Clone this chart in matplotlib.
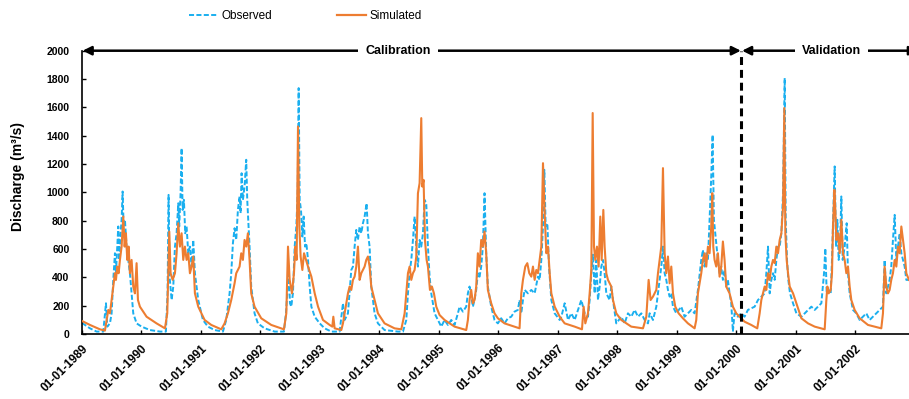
import numpy as np
import matplotlib
matplotlib.use("Agg")
import matplotlib.pyplot as plt
from matplotlib.lines import Line2D
import datetime as dt

plt.rcParams['font.family'] = ['Liberation Sans', 'DejaVu Sans']

# ---------------- data (time as decimal year, discharge in m3/s) ----------------
obs_time = [
    1989.000, 1989.134, 1989.246, 1989.358, 1989.403, 1989.425, 1989.470, 1989.498, 1989.526, 1989.554,
    1989.571, 1989.593, 1989.610, 1989.627, 1989.649, 1989.666, 1989.683, 1989.700, 1989.722, 1989.750,
    1989.778, 1989.806, 1989.834, 1989.862, 1989.918,
    1990.002, 1990.142, 1990.311, 1990.411, 1990.439, 1990.456, 1990.473, 1990.507, 1990.535, 1990.563,
    1990.591, 1990.619, 1990.635, 1990.658, 1990.675, 1990.692, 1990.714, 1990.736, 1990.759, 1990.787,
    1990.815, 1990.843, 1990.871, 1990.899, 1990.955,
    1991.034, 1991.118, 1991.230, 1991.370, 1991.426, 1991.482, 1991.510, 1991.538, 1991.566, 1991.594,
    1991.622, 1991.650, 1991.667, 1991.684, 1991.706, 1991.734, 1991.762, 1991.779, 1991.796, 1991.818,
    1991.846, 1991.902, 1991.958,
    1992.070, 1992.239, 1992.395, 1992.429, 1992.451, 1992.474, 1992.496, 1992.518, 1992.546, 1992.575,
    1992.603, 1992.625, 1992.642, 1992.659, 1992.681, 1992.704, 1992.726, 1992.749, 1992.771, 1992.799,
    1992.827, 1992.855, 1992.911, 1992.995,
    1993.078, 1993.190, 1993.330, 1993.386, 1993.414, 1993.470, 1993.526, 1993.554, 1993.582, 1993.610,
    1993.638, 1993.666, 1993.694, 1993.722, 1993.750, 1993.784, 1993.806, 1993.834, 1993.862, 1993.918,
    1993.974,
    1994.086, 1994.310, 1994.395, 1994.451, 1994.479, 1994.507, 1994.535, 1994.563, 1994.591, 1994.619,
    1994.647, 1994.675, 1994.703, 1994.731, 1994.759, 1994.787, 1994.815, 1994.843, 1994.871, 1994.927,
    1994.983,
    1995.039, 1995.095, 1995.151, 1995.207, 1995.263, 1995.319, 1995.347, 1995.403, 1995.459, 1995.487,
    1995.515, 1995.543, 1995.571, 1995.599, 1995.627, 1995.655, 1995.683, 1995.711, 1995.739, 1995.767,
    1995.795, 1995.823, 1995.879, 1995.935, 1995.991,
    1996.047, 1996.103, 1996.159, 1996.215, 1996.271, 1996.327, 1996.355, 1996.384, 1996.412, 1996.440,
    1996.496, 1996.552, 1996.608, 1996.664, 1996.692, 1996.720, 1996.748, 1996.770, 1996.793, 1996.821,
    1996.849, 1996.888, 1996.944,
    1997.028, 1997.056, 1997.112, 1997.168, 1997.224, 1997.280, 1997.336, 1997.392, 1997.420, 1997.448,
    1997.504, 1997.532, 1997.560, 1997.588, 1997.616, 1997.644, 1997.672, 1997.700, 1997.728, 1997.756,
    1997.784, 1997.812, 1997.868, 1997.896, 1997.924, 1997.980,
    1998.064, 1998.120, 1998.176, 1998.232, 1998.289, 1998.345, 1998.401, 1998.457, 1998.513, 1998.541,
    1998.597, 1998.653, 1998.681, 1998.709, 1998.737, 1998.765, 1998.793, 1998.821, 1998.849, 1998.877,
    1998.905, 1998.933, 1998.989,
    1999.073, 1999.129, 1999.185, 1999.241, 1999.297, 1999.353, 1999.409, 1999.437, 1999.465, 1999.493,
    1999.521, 1999.549, 1999.577, 1999.600, 1999.622, 1999.644, 1999.667, 1999.689, 1999.717, 1999.745,
    1999.773, 1999.801, 1999.829, 1999.857, 1999.885, 1999.913, 1999.941, 1999.969,
    2000.025, 2000.081, 2000.137, 2000.193, 2000.249, 2000.306, 2000.362, 2000.418, 2000.474, 2000.502,
    2000.530, 2000.558, 2000.586, 2000.614, 2000.642, 2000.670, 2000.698, 2000.726, 2000.754, 2000.782,
    2000.810, 2000.827, 2000.849, 2000.871, 2000.899, 2000.950,
    2001.006, 2001.090, 2001.146, 2001.202, 2001.258, 2001.314, 2001.370, 2001.426, 2001.471, 2001.493,
    2001.516, 2001.549, 2001.583, 2001.605, 2001.628, 2001.650, 2001.673, 2001.695, 2001.717, 2001.740,
    2001.762, 2001.785, 2001.818, 2001.852, 2001.874, 2001.902, 2001.958,
    2002.014, 2002.070, 2002.126, 2002.182, 2002.238, 2002.294, 2002.350, 2002.406, 2002.462, 2002.490,
    2002.518, 2002.546, 2002.574, 2002.602, 2002.630, 2002.659, 2002.687, 2002.715, 2002.743, 2002.771,
    2002.799, 2002.827, 2002.855, 2002.899,
]
obs_flow = [
    78, 40, 17, 17, 217, 52, 75, 146, 382, 570,
    429, 617, 759, 523, 711, 806, 1006, 759, 806, 617,
    523, 429, 287, 146, 75,
    52, 28, 17, 17, 287, 982, 405, 240, 335, 617,
    711, 923, 759, 994, 1312, 876, 947, 711, 759, 570,
    617, 476, 664, 429, 240,
    99, 52, 28, 17, 99, 287, 429, 641, 747, 664,
    876, 971, 853, 1135, 947, 1041, 1230, 947, 806, 617,
    335, 146, 75,
    40, 17, 17, 146, 287, 476, 217, 193, 287, 617,
    759, 994, 1736, 947, 876, 688, 829, 617, 641, 523,
    335, 193, 122, 75,
    40, 17, 17, 217, 99, 146, 452, 476, 617, 735,
    664, 759, 711, 782, 829, 923, 711, 617, 335, 146,
    75,
    28, 17, 17, 99, 287, 429, 523, 664, 829, 617,
    476, 664, 617, 711, 947, 923, 617, 405, 287, 146,
    99,
    52, 99, 64, 99, 64, 146, 193, 158, 193, 287,
    335, 264, 193, 240, 311, 429, 405, 476, 617, 994,
    570, 335, 193, 99, 75,
    111, 75, 111, 122, 158, 170, 240, 146, 240, 311,
    287, 311, 287, 405, 382, 523, 759, 1159, 759, 782,
    476, 240, 146,
    99, 122, 217, 99, 146, 99, 170, 240, 193, 146,
    122, 240, 429, 560, 287, 520, 240, 335, 476, 523,
    429, 287, 240, 335, 240, 75,
    122, 75, 146, 122, 170, 122, 146, 99, 75, 146,
    99, 193, 287, 382, 476, 617, 429, 382, 311, 264,
    287, 193, 146,
    193, 122, 146, 170, 146, 311, 523, 594, 476, 570,
    523, 806, 1112, 1406, 806, 711, 617, 523, 429, 476,
    382, 452, 335, 382, 287, 217, 17, 146,
    122, 146, 122, 170, 181, 193, 240, 264, 287, 429,
    617, 287, 382, 429, 382, 523, 617, 617, 711, 994,
    1807, 806, 523, 382, 287, 217,
    146, 122, 146, 170, 193, 170, 193, 217, 429, 605,
    287, 311, 287, 523, 876, 1183, 617, 806, 523, 617,
    971, 523, 617, 782, 429, 287, 170,
    146, 99, 122, 146, 99, 122, 146, 170, 193, 523,
    287, 335, 382, 476, 664, 841, 523, 617, 711, 570,
    523, 476, 382, 382,
]

sim_time = [
    1989.000, 1989.134, 1989.302, 1989.386, 1989.414, 1989.442, 1989.470, 1989.498, 1989.526, 1989.554,
    1989.571, 1989.593, 1989.616, 1989.638, 1989.666, 1989.694, 1989.717, 1989.739, 1989.761, 1989.784,
    1989.806, 1989.834, 1989.862, 1989.890, 1989.918, 1989.941, 1989.974,
    1990.086, 1990.254, 1990.395, 1990.434, 1990.468, 1990.490, 1990.524, 1990.563, 1990.591, 1990.619,
    1990.647, 1990.675, 1990.703, 1990.731, 1990.759, 1990.787, 1990.815, 1990.843, 1990.871, 1990.899,
    1990.955,
    1991.062, 1991.174, 1991.342, 1991.398, 1991.454, 1991.510, 1991.566, 1991.594, 1991.622, 1991.650,
    1991.678, 1991.706, 1991.734, 1991.762, 1991.790, 1991.818, 1991.846, 1991.902,
    1992.014, 1992.182, 1992.395, 1992.435, 1992.463, 1992.491, 1992.530, 1992.563, 1992.586, 1992.608,
    1992.631, 1992.653, 1992.675, 1992.704, 1992.732, 1992.765, 1992.799, 1992.855, 1992.911, 1992.967,
    1993.050, 1993.162, 1993.207, 1993.224, 1993.246, 1993.358, 1993.386, 1993.414, 1993.470, 1993.498,
    1993.526, 1993.554, 1993.582, 1993.610, 1993.638, 1993.666, 1993.694, 1993.722, 1993.750, 1993.778,
    1993.806, 1993.834, 1993.862, 1993.918, 1993.974,
    1994.086, 1994.254, 1994.367, 1994.423, 1994.451, 1994.479, 1994.507, 1994.535, 1994.563, 1994.591,
    1994.619, 1994.647, 1994.675, 1994.703, 1994.720, 1994.742, 1994.765, 1994.793, 1994.815, 1994.849,
    1994.882, 1994.916, 1994.955,
    1995.011, 1995.095, 1995.263, 1995.459, 1995.487, 1995.515, 1995.543, 1995.571, 1995.599, 1995.627,
    1995.655, 1995.683, 1995.711, 1995.739, 1995.767, 1995.795, 1995.823, 1995.879, 1995.935, 1995.991,
    1996.103, 1996.271, 1996.355, 1996.384, 1996.412, 1996.451, 1996.485, 1996.518, 1996.552, 1996.580,
    1996.608, 1996.636, 1996.664, 1996.692, 1996.720, 1996.748, 1996.776, 1996.804, 1996.832, 1996.860,
    1996.888, 1996.944,
    1997.028, 1997.112, 1997.280, 1997.403, 1997.431, 1997.459, 1997.504, 1997.532, 1997.560, 1997.583,
    1997.605, 1997.627, 1997.655, 1997.683, 1997.711, 1997.734, 1997.762, 1997.784, 1997.812, 1997.840,
    1997.896, 1997.924, 1997.980,
    1998.064, 1998.232, 1998.429, 1998.485, 1998.524, 1998.557, 1998.597, 1998.625, 1998.653, 1998.681,
    1998.709, 1998.737, 1998.765, 1998.793, 1998.821, 1998.849, 1998.877, 1998.905, 1998.933, 1998.972,
    1999.028, 1999.101, 1999.185, 1999.297, 1999.325, 1999.353, 1999.409, 1999.437, 1999.465, 1999.493,
    1999.521, 1999.549, 1999.577, 1999.594, 1999.611, 1999.633, 1999.661, 1999.689, 1999.717, 1999.745,
    1999.773, 1999.801, 1999.829, 1999.885, 1999.941, 1999.997,
    2000.053, 2000.137, 2000.249, 2000.350, 2000.390, 2000.418, 2000.446, 2000.474, 2000.502, 2000.530,
    2000.558, 2000.586, 2000.614, 2000.642, 2000.670, 2000.698, 2000.726, 2000.754, 2000.782, 2000.804,
    2000.821, 2000.843, 2000.866, 2000.894, 2000.950,
    2001.006, 2001.062, 2001.090, 2001.202, 2001.314, 2001.482, 2001.510, 2001.527, 2001.549, 2001.583,
    2001.605, 2001.622, 2001.645, 2001.661, 2001.678, 2001.706, 2001.734, 2001.762, 2001.790, 2001.818,
    2001.846, 2001.874, 2001.902, 2001.930, 2001.986,
    2002.070, 2002.210, 2002.434, 2002.462, 2002.490, 2002.518, 2002.546, 2002.574, 2002.602, 2002.630,
    2002.659, 2002.687, 2002.715, 2002.743, 2002.771, 2002.799, 2002.827, 2002.855, 2002.899,
]
sim_flow = [
    92, 64, 33, 24, 99, 170, 146, 240, 335, 429,
    382, 476, 429, 523, 617, 829, 617, 711, 523, 617,
    429, 523, 335, 287, 500, 240, 193,
    122, 75, 40, 146, 723, 429, 382, 429, 570, 782,
    617, 711, 523, 617, 523, 570, 429, 476, 547, 287,
    193,
    99, 64, 33, 75, 146, 240, 358, 429, 452, 476,
    570, 523, 664, 617, 711, 523, 287, 193,
    111, 64, 33, 146, 617, 382, 287, 429, 617, 523,
    1465, 759, 547, 452, 570, 523, 476, 405, 287, 193,
    99, 64, 52, 122, 40, 28, 75, 146, 287, 335,
    311, 382, 405, 476, 617, 382, 429, 452, 476, 523,
    547, 476, 335, 240, 146,
    75, 40, 33, 146, 287, 429, 476, 382, 429, 452,
    547, 994, 1065, 1524, 1041, 1088, 664, 523, 476, 311,
    335, 287, 193,
    134, 99, 52, 28, 99, 240, 311, 217, 240, 335,
    570, 476, 664, 617, 723, 570, 311, 217, 146, 111,
    75, 52, 40, 287, 382, 476, 500, 429, 405, 476,
    382, 452, 429, 523, 617, 1206, 853, 570, 617, 429,
    287, 193,
    122, 75, 52, 33, 193, 75, 146, 287, 452, 1560,
    617, 523, 617, 476, 829, 523, 876, 617, 429, 382,
    335, 240, 146,
    99, 52, 40, 122, 382, 240, 264, 287, 311, 429,
    523, 617, 1171, 570, 429, 547, 358, 476, 287, 193,
    146, 111, 75, 40, 99, 287, 429, 523, 570, 476,
    617, 570, 759, 994, 617, 523, 476, 570, 405, 476,
    653, 523, 335, 287, 193, 146,
    122, 87, 64, 40, 146, 240, 287, 335, 311, 429,
    382, 476, 523, 500, 617, 570, 664, 711, 900, 1595,
    711, 523, 429, 335, 287,
    217, 146, 111, 75, 52, 33, 240, 335, 287, 311,
    429, 759, 1018, 876, 664, 711, 570, 806, 570, 523,
    429, 476, 335, 240, 170,
    111, 64, 40, 146, 476, 335, 287, 311, 382, 429,
    523, 476, 617, 570, 759, 664, 570, 429, 382,
]

tick_years = list(range(1989, 2003))
x_start, x_end = 1989.0, 2002.9
split_time = 2000.085          # start of validation period
period_labels = ["Calibration", "Validation"]
period_label_pos = [1994.31, 2001.59]
series_labels = ["Observed", "Simulated"]
obs_color = "#1AAFEF"
sim_color = "#ED7D31"


def to_date(t):
    y = int(np.floor(t))
    start = dt.datetime(y, 1, 1)
    end = dt.datetime(y + 1, 1, 1)
    return start + (end - start) * (t - y)


obs_x = [to_date(t) for t in obs_time]
sim_x = [to_date(t) for t in sim_time]

# ---------------- figure ----------------
W, H = 909, 399
fig = plt.figure(figsize=(W / 100, H / 100), dpi=100)
ax = fig.add_axes([82 / W, 1 - 334 / H, 1 - 82 / W, (334 - 50.7) / H])

obs_ls = (0, (2.6, 1.2))
ax.plot(obs_x, obs_flow, color=obs_color, lw=1.4, linestyle=obs_ls, zorder=2)
ax.plot(sim_x, sim_flow, color=sim_color, lw=1.5, zorder=3)

ax.set_xlim(to_date(x_start), to_date(x_end))
ax.set_ylim(0, 2000)
ax.set_yticks(np.arange(0, 2001, 200))

ax.set_xticks([dt.datetime(y, 1, 1) for y in tick_years])
ax.set_xticklabels([f"01-01-{y}" for y in tick_years], rotation=45, ha='right',
                   va='top', rotation_mode='anchor', fontsize=8.5, fontweight='bold')
for lab in ax.get_yticklabels():
    lab.set_fontsize(7.5)
    lab.set_fontweight('bold')

ax.tick_params(axis='both', direction='in', length=3, width=1, color='black')
ax.tick_params(axis='y', pad=9)
ax.tick_params(axis='x', pad=6)

for s in ['top', 'right']:
    ax.spines[s].set_visible(False)
for s in ['left', 'bottom']:
    ax.spines[s].set_color('black')
    ax.spines[s].set_linewidth(1.2)

ax.set_ylabel("Discharge (m³/s)", fontsize=10, fontweight='bold')
ax.yaxis.set_label_coords(-(82 - 25) / (W - 82), 0.555)

# calibration / validation markers
split_x = to_date(split_time)
ax.axvline(split_x, color='black', lw=2.2, linestyle=(0, (2.6, 1.6)), zorder=4)

arrow_kw = dict(arrowstyle='<|-|>', color='black', lw=1.8, mutation_scale=13,
                shrinkA=0, shrinkB=0)
ax.annotate('', xy=(to_date(x_start + 0.01), 2000), xytext=(to_date(split_time - 0.01), 2000),
            arrowprops=arrow_kw, annotation_clip=False, zorder=5)
ax.annotate('', xy=(to_date(split_time + 0.01), 2000), xytext=(to_date(2003.05), 2000),
            arrowprops=arrow_kw, annotation_clip=False, zorder=5)

for lbl, pos in zip(period_labels, period_label_pos):
    ax.text(to_date(pos), 2000, lbl, ha='center', va='center', fontsize=9,
            fontweight='bold', zorder=6,
            bbox=dict(facecolor='white', edgecolor='none', pad=5))

# legend
handles = [Line2D([], [], color=obs_color, lw=1.4, linestyle=obs_ls),
           Line2D([], [], color=sim_color, lw=1.6)]
fig.legend(handles, series_labels, loc='center', bbox_to_anchor=(305 / W, 1 - 16 / H),
           ncol=2, frameon=False, prop={'size': 8.5},
           handlelength=2.45, handletextpad=0.3, columnspacing=5.5)

fig.savefig("out.png", dpi=100)
